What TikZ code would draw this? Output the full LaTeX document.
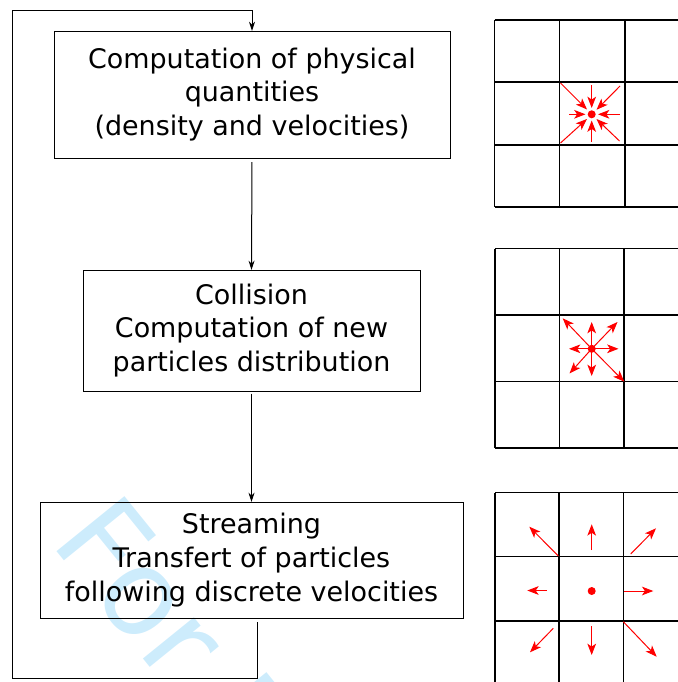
\documentclass[tikz,border=0pt]{standalone}
\usepackage{fontspec}
\setmainfont{DejaVu Sans}
\usetikzlibrary{arrows.meta}
\definecolor{vizkek}{RGB}{205,236,252}

\begin{document}
\begin{tikzpicture}[x=0.75pt,y=-0.75pt,>=Stealth,
    blokk/.style={draw, line width=0.75pt, inner sep=0pt, outer sep=0pt, align=center,
        font=\fontsize{20.2}{25.3}\selectfont},
    flow/.style={line width=0.75pt, -{Stealth[length=7pt,width=4.5pt]}},
    racs/.style={line width=0.8pt},
    seb/.style={red, line width=0.75pt, -{Stealth[length=8.5pt,width=6.5pt,inset=2.2pt]}},
    vizjel/.style={text=vizkek, font=\fontsize{90}{90}\selectfont}]
    \useasboundingbox (0,0) rectangle (678,682);
    \clip (0,0) rectangle (678,682);

    % Vízjel
    \node[vizjel, rotate=-51, anchor=base west, inner sep=0pt] (wm) at (49.5,542.7) {For Peer Review};

    % Lépések
    \node[blokk, minimum width=297pt, minimum height=95.25pt] (qty) at (252,94.5)
        {Computation of physical\\quantities\\(density and velocities)};
    \node[blokk, minimum width=252.75pt, minimum height=90.75pt] (coll) at (251.5,330.5)
        {Collision\\Computation of new\\particles distribution};
    \node[blokk, minimum width=317.25pt, minimum height=87pt] (stream) at (251.5,560)
        {Streaming\\Transfert of particles\\following discrete velocities};

    % Nyilak
    \draw[flow, shorten <=3pt] (qty.south) -- (coll.north);
    \draw[flow, shorten <=2pt] (coll.south) -- (stream.north);

    % Visszacsatolás
    \coordinate (ret) at (257,622);
    \coordinate (corner) at (12,678);
    \coordinate (top) at (12,10);
    \draw[flow] (ret) |- (corner) -- (top) -| (qty.north);

    % Rácsok
    \foreach \xx in {494.5,559.5,625} \draw[racs] (\xx,20) -- (\xx,207);
    \foreach \yy in {20,82,145,207} \draw[racs] (494.5,\yy) -- (690,\yy);
    \foreach \xx in {495,559.5,624} \draw[racs] (\xx,248.5) -- (\xx,448);
    \foreach \yy in {248.5,315,381.5,448} \draw[racs] (495,\yy) -- (690,\yy);
    \foreach \xx in {495,559,623.5} \draw[racs] (\xx,492.5) -- (\xx,690);
    \foreach \yy in {492.5,556.5,621} \draw[racs] (495,\yy) -- (690,\yy);

    % 1. Befelé mutató sebességek
    \fill[red] (591.7,114.3) circle (3pt);
    \draw[seb] (591.7,85) -- (591.7,108);
    \draw[seb] (591.7,142) -- (591.7,120.5);
    \draw[seb] (569.3,114.3) -- (585.5,114.3);
    \draw[seb] (620,114.3) -- (598,114.3);
    \draw[seb] (560.5,83) -- (587,109.5);
    \draw[seb] (620,86) -- (596.5,109.8);
    \draw[seb] (560.5,143) -- (587,119);
    \draw[seb] (619.5,141) -- (596.5,119);

    % 2. Ütközés
    \fill[red] (591.7,348.8) circle (3pt);
    \draw[seb] (591.7,348.8) -- (591.7,322);
    \draw[seb] (591.7,348.8) -- (591.7,376);
    \draw[seb] (591.7,348.8) -- (569,348.8);
    \draw[seb] (591.7,348.8) -- (618.5,348.8);
    \draw[seb] (591.7,348.8) -- (562.7,318.3);
    \draw[seb] (591.7,348.8) -- (617.5,322);
    \draw[seb] (591.7,348.8) -- (569.5,373.5);
    \draw[seb] (591.7,348.8) -- (624.3,381.7);

    % 3. Áramlás
    \fill[red] (591.7,591) circle (3pt);
    \draw[seb] (591.7,550) -- (591.7,524.3);
    \draw[seb] (591.7,626) -- (591.7,655);
    \draw[seb] (546.7,590.5) -- (527.3,590.5);
    \draw[seb] (624.3,591) -- (653.3,591);
    \draw[seb] (558.3,556) -- (529.3,526.7);
    \draw[seb] (630.7,554) -- (656,528.3);
    \draw[seb] (553.3,628.3) -- (530,652.3);
    \draw[seb] (623.3,621.7) -- (656.7,656.7);
\end{tikzpicture}
\end{document}
